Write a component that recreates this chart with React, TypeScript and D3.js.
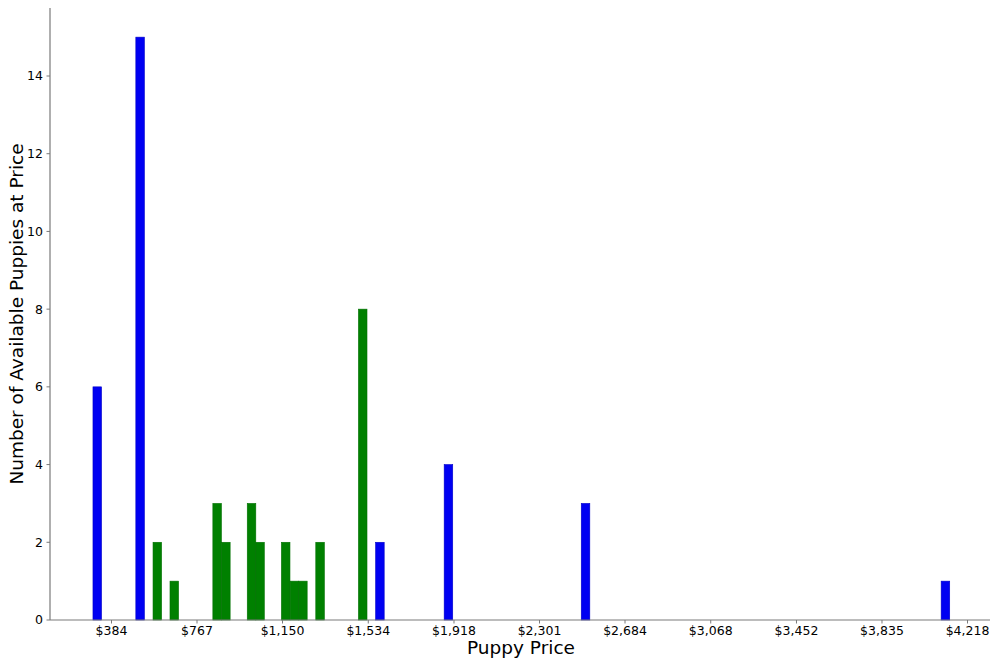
import React from "react";
import * as d3 from "d3";

// Histogram bins: left edge of bin (dollars), count, group colour
const binStarts = [301, 493, 570, 646, 838, 877, 992, 1030, 1145, 1184, 1222, 1299, 1490, 1567, 1874, 2488, 4100];
const binCounts = [6, 15, 2, 1, 3, 2, 3, 2, 2, 1, 1, 2, 8, 2, 4, 3, 1];
const binGroups = ["b", "b", "g", "g", "g", "g", "g", "g", "g", "g", "g", "g", "g", "b", "b", "b", "b"];
const BIN_WIDTH = 38.37;

const xTickValues = [384, 767, 1150, 1534, 1918, 2301, 2684, 3068, 3452, 3835, 4218];
const xTickLabels = ["$384", "$767", "$1,150", "$1,534", "$1,918", "$2,301", "$2,684", "$3,068", "$3,452", "$3,835", "$4,218"];
const yTickValues = [0, 2, 4, 6, 8, 10, 12, 14];

const groupColor: Record<string, string> = { b: "#0000f2", g: "#008000" };
const groupEdge: Record<string, string> = { b: "#0000c8", g: "#007000" };

export default function App() {
  const W = 1000, H = 666;
  const left = 50, right = 990, top = 8, bottom = 620;
  const x = d3.scaleLinear().domain([384, 4218]).range([111.5, 967.5]);
  const y = d3.scaleLinear().domain([0, 15.75]).range([bottom, top]);
  const font = "DejaVu Sans, sans-serif";
  const barW = x(BIN_WIDTH) - x(0);

  return (
    <svg width={W} height={H} style={{ position: "absolute", left: 0, top: 0, background: "#fff" }}>
      <rect x={0} y={0} width={W} height={H} fill="#fff" />
      {binStarts.map((s, i) => (
        <rect
          key={i}
          x={x(s)}
          y={y(binCounts[i])}
          width={barW}
          height={y(0) - y(binCounts[i])}
          fill={groupColor[binGroups[i]]}
          stroke={groupEdge[binGroups[i]]}
          strokeWidth={0.6}
        />
      ))}
      {/* spines */}
      <line x1={left} x2={left} y1={top} y2={bottom} stroke="#7a7a7a" strokeWidth={1.2} />
      <line x1={left} x2={right} y1={bottom} y2={bottom} stroke="#7a7a7a" strokeWidth={1.2} />
      {/* x ticks */}
      {xTickValues.map((v, i) => (
        <g key={v} transform={`translate(${x(v)},${bottom})`}>
          <line y1={0} y2={3.5} stroke="#7a7a7a" strokeWidth={1} />
          <text y={15} textAnchor="middle" fontFamily={font} fontSize={12.5} fill="#000">
            {xTickLabels[i]}
          </text>
        </g>
      ))}
      {/* y ticks */}
      {yTickValues.map((v) => (
        <g key={v} transform={`translate(${left},${y(v)})`}>
          <line x1={0} x2={-3.5} stroke="#7a7a7a" strokeWidth={1} />
          <text x={-7} dy="0.35em" textAnchor="end" fontFamily={font} fontSize={12.5} fill="#000">
            {v}
          </text>
        </g>
      ))}
      <text x={521} y={654} textAnchor="middle" fontFamily={font} fontSize={18.5} fill="#000">
        Puppy Price
      </text>
      <text
        transform={`translate(23,314) rotate(-90)`}
        textAnchor="middle"
        fontFamily={font}
        fontSize={18.5}
        fill="#000"
      >
        Number of Available Puppies at Price
      </text>
    </svg>
  );
}
